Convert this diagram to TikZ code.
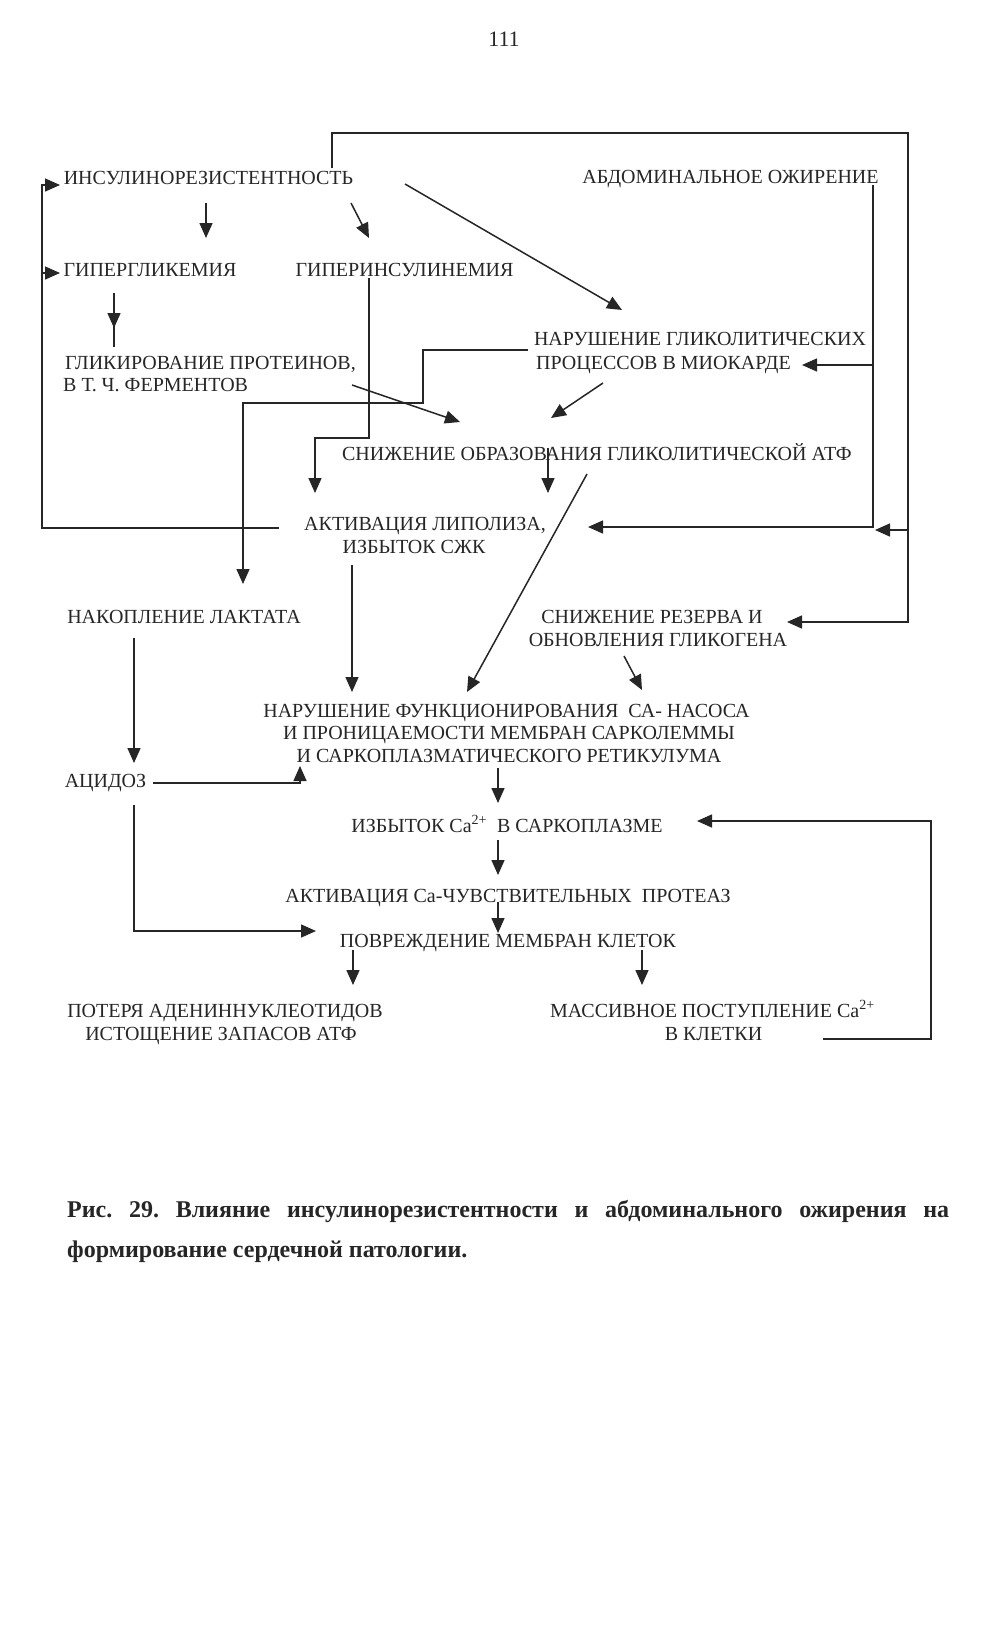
\documentclass[tikz,border=0pt]{standalone}
\usepackage{fontspec}
\setmainfont{Liberation Serif}
\usetikzlibrary{arrows.meta}
\definecolor{ink}{HTML}{262626}
\frenchspacing
\begin{document}
\begin{tikzpicture}[x=1pt,y=-1pt,
  lbl/.style={anchor=base,inner sep=0pt,text=ink,font=\fontsize{20}{24}\selectfont},
  capt/.style={anchor=base west,inner sep=0pt,text=ink,font=\fontsize{24}{28}\selectfont\bfseries},
  ln/.style={draw=ink,line width=1.5pt},
  arr/.style={ln,-{Triangle[length=15pt,width=13pt]}}]
\fill[white] (0,0) rectangle (987,1650);
\path[use as bounding box] (0,0) rectangle (987,1650);

% page number
\node[lbl,font=\fontsize{22}{26}\selectfont] (pg) at (504,46) {111};

% text nodes
\node[lbl] (ir)  at (208.5,184) {ИНСУЛИНОРЕЗИСТЕНТНОСТЬ};
\node[lbl] (ao)  at (730.5,183) {АБДОМИНАЛЬНОЕ ОЖИРЕНИЕ};
\node[lbl] (hg)  at (150,276) {ГИПЕРГЛИКЕМИЯ};
\node[lbl] (hi)  at (404.5,276) {ГИПЕРИНСУЛИНЕМИЯ};
\node[lbl] (gp1) at (210.5,369) {ГЛИКИРОВАНИЕ ПРОТЕИНОВ,};
\node[lbl,anchor=base west] (gp2) at (63,391) {В Т. Ч. ФЕРМЕНТОВ};
\node[lbl] (ng1) at (700,345) {НАРУШЕНИЕ ГЛИКОЛИТИЧЕСКИХ};
\node[lbl] (ng2) at (663.5,369) {ПРОЦЕССОВ В МИОКАРДЕ};
\node[lbl] (sa)  at (597,460) {СНИЖЕНИЕ ОБРАЗОВАНИЯ ГЛИКОЛИТИЧЕСКОЙ АТФ};
\node[lbl] (al1) at (425,530) {АКТИВАЦИЯ ЛИПОЛИЗА,};
\node[lbl] (al2) at (414,553) {ИЗБЫТОК СЖК};
\node[lbl] (nl)  at (184,623) {НАКОПЛЕНИЕ ЛАКТАТА};
\node[lbl] (sr1) at (652,623) {СНИЖЕНИЕ РЕЗЕРВА И};
\node[lbl] (sr2) at (658,646) {ОБНОВЛЕНИЯ ГЛИКОГЕНА};
\node[lbl] (nf1) at (506.5,717) {НАРУШЕНИЕ ФУНКЦИОНИРОВАНИЯ\ \ СА- НАСОСА};
\node[lbl] (nf2) at (509,739) {И ПРОНИЦАЕМОСТИ МЕМБРАН САРКОЛЕММЫ};
\node[lbl] (nf3) at (509,762) {И САРКОПЛАЗМАТИЧЕСКОГО РЕТИКУЛУМА};
\node[lbl] (ac)  at (105.5,787) {АЦИДОЗ};
\node[lbl] (ca)  at (507,832) {ИЗБЫТОК Ca\textsuperscript{2+}\ \ В САРКОПЛАЗМЕ};
\node[lbl] (pr)  at (508,902) {АКТИВАЦИЯ Ca-ЧУВСТВИТЕЛЬНЫХ\ \ ПРОТЕАЗ};
\node[lbl] (pm)  at (508,947) {ПОВРЕЖДЕНИЕ МЕМБРАН КЛЕТОК};
\node[lbl] (pa1) at (225,1017) {ПОТЕРЯ АДЕНИННУКЛЕОТИДОВ};
\node[lbl] (pa2) at (221,1040) {ИСТОЩЕНИЕ ЗАПАСОВ АТФ};
\node[lbl] (mp1) at (712.5,1017) {МАССИВНОЕ ПОСТУПЛЕНИЕ Ca\textsuperscript{2+}};
\node[lbl] (mp2) at (713.5,1040) {В КЛЕТКИ};

% caption
\node[capt] (cap1) at (67,1217) {\makebox[882pt][s]{Рис. 29. Влияние инсулинорезистентности и абдоминального ожирения на}};
\node[capt] (cap2) at (67,1257) {формирование сердечной патологии.};

% connector points
\coordinate (l0) at (279,528); \coordinate (l1) at (42,528);
\coordinate (l2) at (42,185);  \coordinate (l3) at (60,185);
\coordinate (l4) at (42,273);  \coordinate (l5) at (60,273);

\coordinate (t0) at (332,168); \coordinate (t1) at (332,133);
\coordinate (t2) at (908,133); \coordinate (t3) at (908,622);
\coordinate (t4) at (787,622); \coordinate (t5) at (908,530);
\coordinate (t6) at (875,530);

\coordinate (a0) at (873,185); \coordinate (a1) at (873,527);
\coordinate (a2) at (588,527); \coordinate (a3) at (873,365);
\coordinate (a4) at (802,365);

\coordinate (i0) at (206,203); \coordinate (i1) at (206,238);
\coordinate (i2) at (351,203); \coordinate (i3) at (369,238);
\coordinate (i4) at (405,184); \coordinate (i5) at (622,310);

\coordinate (g0) at (114,293); \coordinate (g1) at (114,328);
\coordinate (g2) at (114,347);

\coordinate (h0) at (369,278); \coordinate (h1) at (369,438);
\coordinate (h2) at (315,438); \coordinate (h3) at (315,493);

\coordinate (n0) at (528,350); \coordinate (n1) at (423,350);
\coordinate (n2) at (423,403); \coordinate (n3) at (243,403);
\coordinate (n4) at (243,584);

\coordinate (k0) at (352,385); \coordinate (k1) at (460,422);
\coordinate (k2) at (603,383); \coordinate (k3) at (551,418);

\coordinate (s0) at (548,448); \coordinate (s1) at (548,493);
\coordinate (s2) at (587,474); \coordinate (s3) at (467,692);

\coordinate (v0) at (352,565); \coordinate (v1) at (352,692);
\coordinate (r0) at (624,656); \coordinate (r1) at (642,690);

\coordinate (c0) at (134,638); \coordinate (c1) at (134,763);
\coordinate (c2) at (153,783); \coordinate (c3) at (300,783);
\coordinate (c4) at (300,766);
\coordinate (c5) at (134,805); \coordinate (c6) at (134,931);
\coordinate (c7) at (316,931);

\coordinate (m0) at (498,768); \coordinate (m1) at (498,803);
\coordinate (m2) at (498,840); \coordinate (m3) at (498,875);
\coordinate (m4) at (498,902); \coordinate (m5) at (498,933);
\coordinate (m6) at (353,950); \coordinate (m7) at (353,985);
\coordinate (m8) at (642,950); \coordinate (m9) at (642,985);

\coordinate (q0) at (823,1039); \coordinate (q1) at (931,1039);
\coordinate (q2) at (931,821);  \coordinate (q3) at (697,821);

% connectors
\draw[arr] (l0) -- (l1) -- (l2) -- (l3);
\draw[arr] (l4) -- (l5);
\draw[arr] (t0) -- (t1) -- (t2) -- (t3) -- (t4);
\draw[arr] (t5) -- (t6);
\draw[arr] (a0) -- (a1) -- (a2);
\draw[arr] (a3) -- (a4);
\draw[arr] (i0) -- (i1);
\draw[arr] (i2) -- (i3);
\draw[arr] (i4) -- (i5);
\draw[ln] (g0) -- (g2);
\draw[arr] (g0) -- (g1);
\draw[arr] (h0) -- (h1) -- (h2) -- (h3);
\draw[arr] (n0) -- (n1) -- (n2) -- (n3) -- (n4);
\draw[arr] (k0) -- (k1);
\draw[arr] (k2) -- (k3);
\draw[arr] (s0) -- (s1);
\draw[arr] (s2) -- (s3);
\draw[arr] (v0) -- (v1);
\draw[arr] (r0) -- (r1);
\draw[arr] (c0) -- (c1);
\draw[arr] (c2) -- (c3) -- (c4);
\draw[arr] (c5) -- (c6) -- (c7);
\draw[arr] (m0) -- (m1);
\draw[arr] (m2) -- (m3);
\draw[arr] (m4) -- (m5);
\draw[arr] (m6) -- (m7);
\draw[arr] (m8) -- (m9);
\draw[arr] (q0) -- (q1) -- (q2) -- (q3);
\end{tikzpicture}
\end{document}
